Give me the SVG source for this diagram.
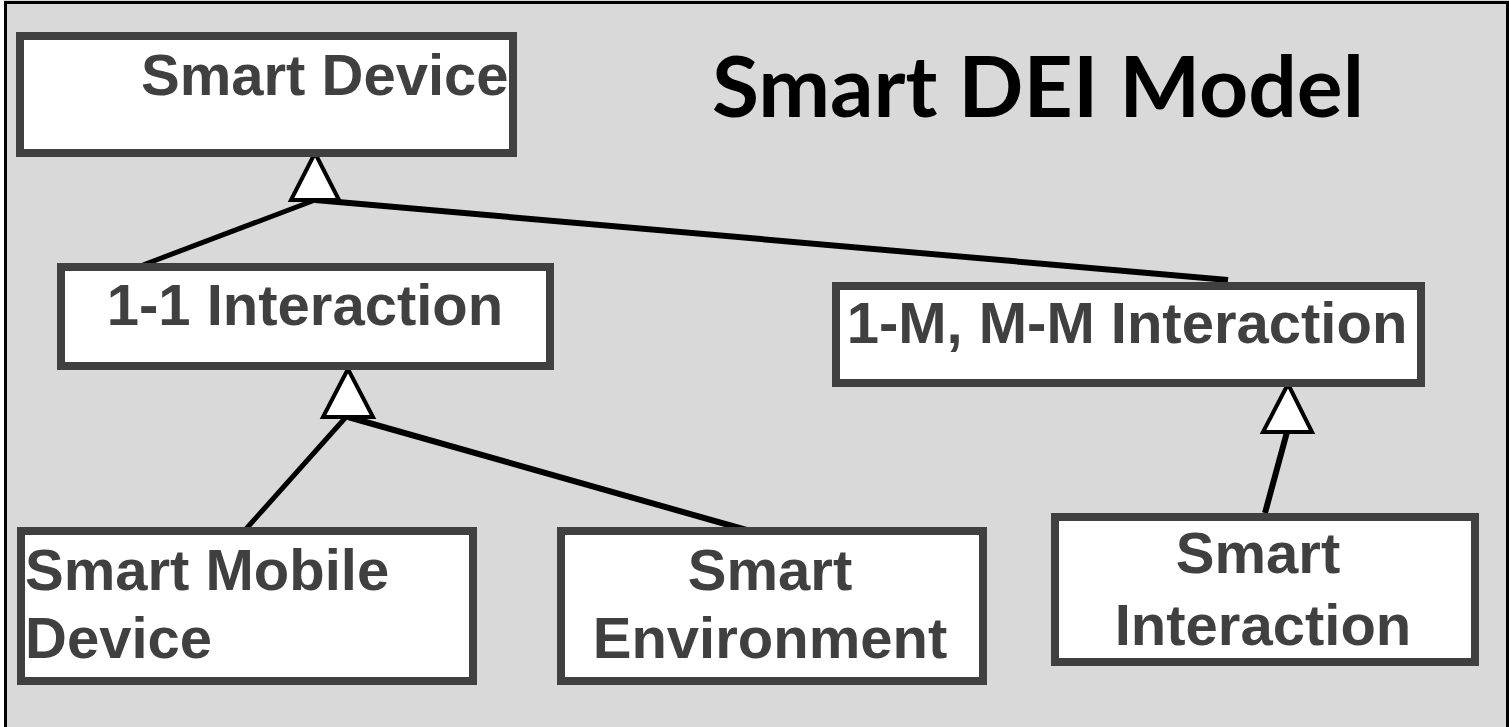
<svg xmlns="http://www.w3.org/2000/svg" width="1509" height="727" viewBox="0 0 1509 727">
  <style>
    .box { fill: #ffffff; stroke: #404040; stroke-width: 8; }
    .lbl { font-family: "Liberation Sans", Arial, sans-serif; font-weight: bold; font-size: 58px; fill: #404040; }
    .mid { text-anchor: middle; }
    .edge { stroke: #000000; fill: none; stroke-linecap: butt; }
    .head { fill: #ffffff; stroke: #000000; stroke-width: 4; stroke-linejoin: miter; }
    .title { font-family: Lato, "Open Sans", "Liberation Sans", sans-serif; font-weight: bold; font-size: 84px; fill: #000000; }
  </style>

  <!-- canvas and frame -->
  <rect x="0" y="0" width="1509" height="727" fill="#ffffff"/>
  <rect x="4" y="0" width="1505" height="727" fill="#d9d9d9"/>
  <path d="M5.5 727 V2.5 H1507.5 V727" fill="none" stroke="#000000" stroke-width="3"/>

  <text class="title" x="712" y="117" textLength="652" lengthAdjust="spacingAndGlyphs">Smart DEI Model</text>

  <!-- generalization connectors -->
  <g id="connectors">
    <line class="edge" x1="315" y1="200" x2="143" y2="265" stroke-width="5"/>
    <line class="edge" x1="315" y1="200" x2="1228" y2="280" stroke-width="6"/>
    <line class="edge" x1="346" y1="417" x2="246" y2="529" stroke-width="5"/>
    <line class="edge" x1="348" y1="417" x2="750" y2="531" stroke-width="6"/>
    <line class="edge" x1="1287" y1="432" x2="1265" y2="513" stroke-width="6"/>
    <polygon class="head" points="315,153 291,200 339,200"/>
    <polygon class="head" points="348,369 323,417 373,417"/>
    <polygon class="head" points="1288,384 1263,432 1312,432"/>
  </g>

  <g id="smart-device">
    <rect class="box" x="20" y="36" width="493" height="117"/>
    <text class="lbl" x="141" y="95">Smart Device</text>
  </g>

  <g id="one-to-one">
    <rect class="box" x="61" y="267" width="489" height="99"/>
    <text class="lbl mid" x="305" y="325">1-1 Interaction</text>
  </g>

  <g id="one-to-many">
    <rect class="box" x="836" y="286" width="585" height="97"/>
    <text class="lbl mid" x="1127" y="343">1-M, M-M Interaction</text>
  </g>

  <g id="smart-mobile-device">
    <rect class="box" x="21" y="531" width="452" height="150"/>
    <text class="lbl" x="25" y="590">Smart Mobile</text>
    <text class="lbl" x="25" y="658">Device</text>
  </g>

  <g id="smart-environment">
    <rect class="box" x="561" y="531" width="422" height="150"/>
    <text class="lbl mid" x="770" y="590">Smart</text>
    <text class="lbl mid" x="770" y="658">Environment</text>
  </g>

  <g id="smart-interaction">
    <rect class="box" x="1055" y="517" width="420" height="145"/>
    <text class="lbl mid" x="1258" y="573">Smart</text>
    <text class="lbl mid" x="1263" y="645">Interaction</text>
  </g>
</svg>
